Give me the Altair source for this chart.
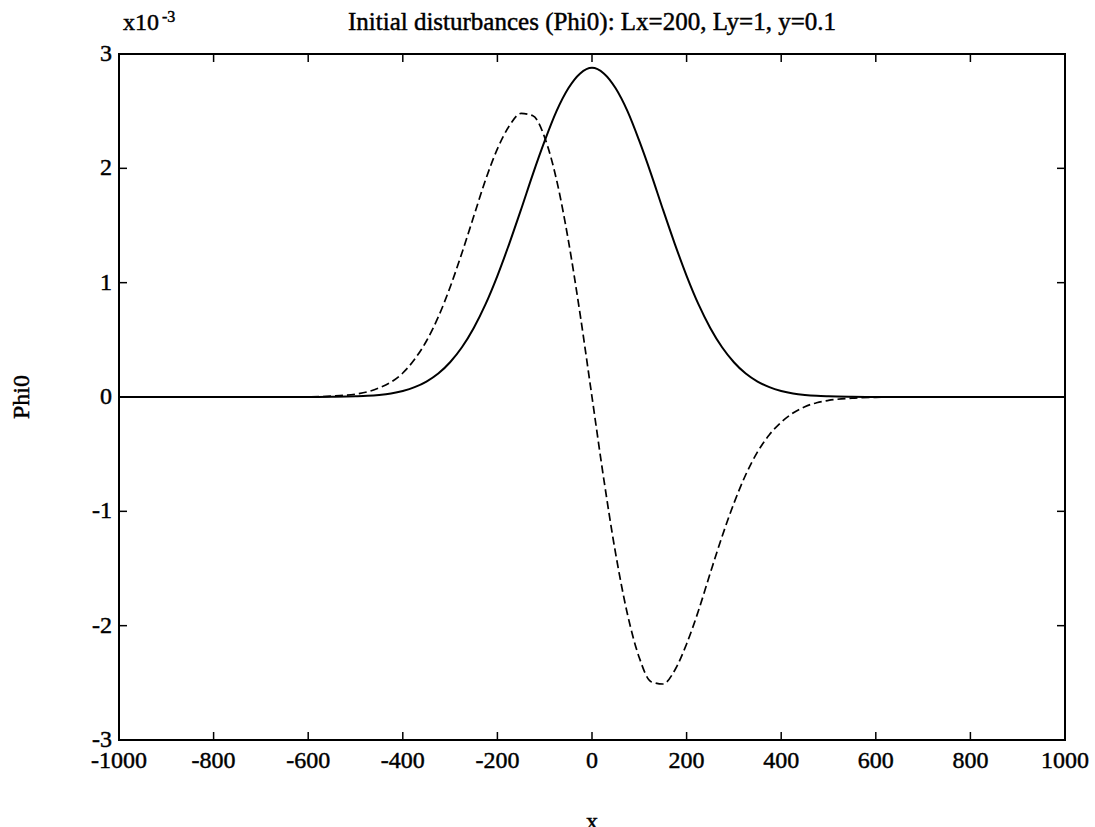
import altair as alt
import pandas as pd

# Sample positions along x
x_pos = [-1000, -900, -800, -700, -650, -600, -550,
         -500, -475, -450, -425, -400, -375, -350, -325, -300, -275, -250, -225,
         -200, -175, -150, -125, -100, -75, -50, -25, 0, 25, 50, 75, 100, 125,
         150, 175, 200, 225, 250, 275, 300, 325, 350, 375, 400, 425, 450, 475, 500,
         550, 600, 650, 700, 800, 900, 1000]

# Phi0 in units of 1e-3, solid curve
phi_solid = [0, 0, 0, 0, 0, 0, 0.002,
             0.006, 0.010, 0.018, 0.031, 0.053, 0.086, 0.135, 0.205, 0.304, 0.435, 0.604, 0.812,
             1.06, 1.34, 1.64, 1.95, 2.24, 2.50, 2.70, 2.83, 2.88, 2.83, 2.70, 2.50, 2.24, 1.95,
             1.64, 1.34, 1.06, 0.812, 0.604, 0.435, 0.304, 0.205, 0.135, 0.086, 0.053, 0.031, 0.018, 0.010, 0.006,
             0.002, 0, 0, 0, 0, 0, 0]

# Phi0 in units of 1e-3, dashed curve
phi_dashed = [0, 0, 0, 0, 0.001, 0.002, 0.008,
              0.025, 0.045, 0.08, 0.13, 0.21, 0.33, 0.49, 0.70, 0.96, 1.26, 1.58, 1.90,
              2.17, 2.37, 2.48, 2.46, 2.27, 1.90, 1.37, 0.72, 0.0, -0.72, -1.37, -1.90, -2.28, -2.49,
              -2.51, -2.39, -2.16, -1.87, -1.54, -1.22, -0.93, -0.68, -0.48, -0.33, -0.22, -0.14, -0.085, -0.05, -0.03,
              -0.01, -0.003, -0.001, 0, 0, 0, 0]

x_ticks = [-1000, -800, -600, -400, -200, 0, 200, 400, 600, 800, 1000]
y_ticks = [-3, -2, -1, 0, 1, 2, 3]

title_text = "Initial disturbances (Phi0): Lx=200, Ly=1, y=0.1"
x_title = "x"
y_title = "Phi0"

W, H = 946, 686
FONT = "Liberation Serif"
TICK = 8
INK = 0.45  # slight outline so the serif text prints heavy

curves = pd.DataFrame({"x": x_pos, "solid": phi_solid, "dashed": phi_dashed})
xt = pd.DataFrame({"t": x_ticks, "label": [str(v) for v in x_ticks]})
yt = pd.DataFrame({"t": y_ticks, "label": [str(v) for v in y_ticks]})

xs = alt.Scale(domain=[-1000, 1000], nice=False, zero=False)
ys = alt.Scale(domain=[-3, 3], nice=False, zero=False)

base = alt.Chart(curves)

solid = base.mark_line(color="black", strokeWidth=2, interpolate="monotone").encode(
    x=alt.X("x:Q", scale=xs, axis=None),
    y=alt.Y("solid:Q", scale=ys, axis=None),
)
dashed = base.mark_line(color="black", strokeWidth=1.7, strokeDash=[8, 4],
                        interpolate="monotone").encode(
    x=alt.X("x:Q", scale=xs),
    y=alt.Y("dashed:Q", scale=ys),
)

# Inward-pointing tick marks on all four sides of the frame
top_ticks = alt.Chart(xt).mark_rule(color="black", strokeWidth=1.5).encode(
    x=alt.X("t:Q", scale=xs), y=alt.value(0), y2=alt.value(TICK))
bottom_ticks = alt.Chart(xt).mark_rule(color="black", strokeWidth=1.5).encode(
    x=alt.X("t:Q", scale=xs), y=alt.value(H - TICK), y2=alt.value(H))
left_ticks = alt.Chart(yt).mark_rule(color="black", strokeWidth=1.5).encode(
    y=alt.Y("t:Q", scale=ys), x=alt.value(0), x2=alt.value(TICK))
right_ticks = alt.Chart(yt).mark_rule(color="black", strokeWidth=1.5).encode(
    y=alt.Y("t:Q", scale=ys), x=alt.value(W - TICK), x2=alt.value(W))

text_style = dict(font=FONT, color="black", stroke="black", strokeWidth=INK)

# Tick labels
x_labels = alt.Chart(xt).mark_text(fontSize=24, align="center", baseline="top", **text_style).encode(
    x=alt.X("t:Q", scale=xs), y=alt.value(H + 9), text="label:N")
y_labels = alt.Chart(yt).mark_text(fontSize=24, align="right", baseline="middle", **text_style).encode(
    y=alt.Y("t:Q", scale=ys), x=alt.value(-7), text="label:N")

# Axis titles, plot title and the multiplier "x10^-3"
def caption(txt, size, x, y, align="center", baseline="alphabetic", angle=0):
    return alt.Chart(pd.DataFrame({"t": [txt]})).mark_text(
        fontSize=size, align=align, baseline=baseline, angle=angle, **text_style
    ).encode(text="t:N", x=alt.value(x), y=alt.value(y))

title = caption(title_text, 25, W / 2, -24)
xlab = caption(x_title, 24, W / 2, H + 70, baseline="top")
ylab = caption(y_title, 24, -97, H / 2, baseline="middle", angle=270)
mult = caption("x10", 24, 4, -24, align="left")
mult_exp = caption("-3", 16, 43, -32, align="left")

chart = alt.layer(
    solid, dashed, top_ticks, bottom_ticks, left_ticks, right_ticks,
    x_labels, y_labels, title, xlab, ylab, mult, mult_exp
).properties(
    width=W, height=H,
    padding={"left": 119, "top": 54, "right": 30, "bottom": 87},
    autosize=alt.AutoSizeParams(type="none"),
    background="white",
).configure_view(stroke="black", strokeWidth=2)

chart.save("out.html", embed_options={"renderer": "svg", "actions": False})
